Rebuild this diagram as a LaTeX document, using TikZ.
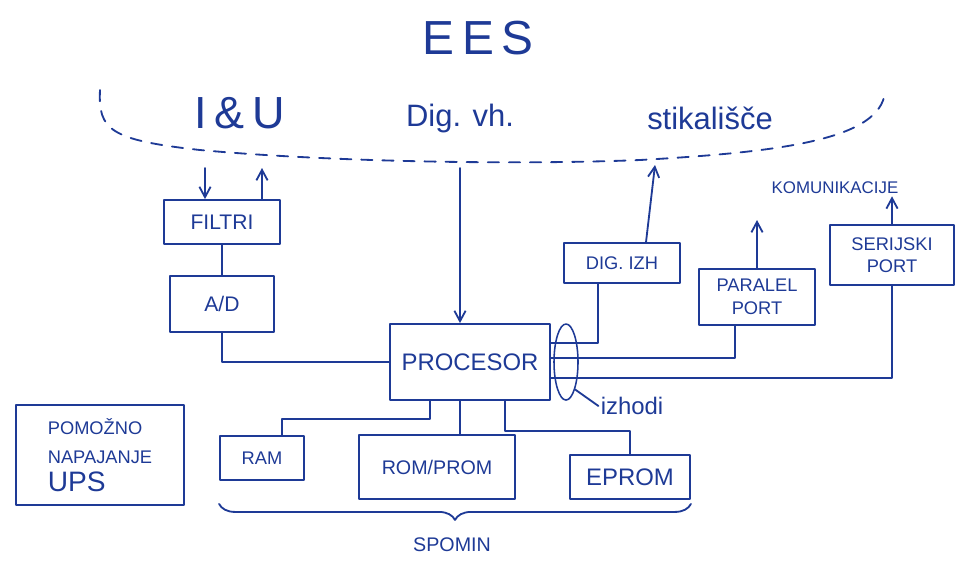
\documentclass[tikz,border=0pt]{standalone}
\usepackage{fontspec}
\setmainfont{Liberation Sans}
\usetikzlibrary{positioning,arrows.meta,calc,shapes.geometric,decorations.pathreplacing}
\definecolor{ink}{RGB}{30,58,150}
\newcommand{\fs}[2]{\fontsize{#1}{#2}\selectfont}
\tikzset{
  fig/.style={x=0.025cm,y=-0.025cm,ink,line width=1.3pt,line cap=round,line join=round},
  box/.style={draw,line width=1.3pt,align=center,inner sep=2pt,font=\fs{15}{18}},
  ln/.style={-{Straight Barb[length=2.6mm,width=2.8mm]},line width=1.3pt},
  lbl/.style={inner sep=1pt},
}

\begin{document}
\begin{tikzpicture}[fig]
\useasboundingbox (0,0) rectangle (970,562);

% field side
\node[lbl,font=\fs{34}{36}] (ees) at (478,38) {E\,E\,S};
\node[lbl,font=\fs{32}{34}] (iu) at (240,113) {I\,\&\,U};
\node[lbl,font=\fs{22}{24}] (digvh) at (460,118) {Dig. vh.};
\node[lbl,font=\fs{22}{24}] (stik) at (710,118) {stikališče};
\draw[dashed,dash pattern=on 8pt off 7pt] (100,90) .. controls (98,130) and (110,140) .. (200,150)
  .. controls (330,162) and (520,165) .. (640,160) .. controls (780,152) and (880,140) .. (885,92);

\coordinate (iuin) at (205,168);
\coordinate (iuout) at (262,168);
\coordinate (dvh) at (460,168);
\coordinate (stikin) at (655,165);
\coordinate (parout) at (757,220);

% blocks
\node[box,minimum width=29mm,minimum height=11mm] (filtri) at (222,222) {FILTRI};
\node[box,minimum width=26mm,minimum height=14mm,below=7.5mm of filtri] (ad) {A/D};
\node[box,minimum width=40mm,minimum height=19mm,font=\fs{17}{20}] (proc) at (470,362) {PROCESOR};
\node[box,minimum width=29mm,minimum height=10mm,font=\fs{13}{16}] (digizh) at (622,263) {DIG. IZH};
\node[box,minimum width=29mm,minimum height=14mm,font=\fs{13}{16}] (paralel) at (757,297) {PARALEL\\PORT};
\node[box,minimum width=31mm,minimum height=15mm,font=\fs{13}{16}] (serijski) at (892,255) {SERIJSKI\\PORT};
\node[lbl,font=\fs{12}{14}] (komun) at (835,188) {KOMUNIKACIJE};

\node[box,minimum width=21mm,minimum height=11mm,font=\fs{13}{16}] (ram) at (262,458) {RAM};
\node[box,minimum width=39mm,minimum height=16mm,font=\fs{14}{17}] (rom) at (437,467) {ROM/PROM};
\node[box,minimum width=30mm,minimum height=11mm,font=\fs{17}{20}] (eprom) at (630,477) {EPROM};
\node[box,minimum width=42mm,minimum height=25mm,align=left,font=\fs{13}{17}] (ups) at (100,455)
  {POMOŽNO\\[4pt]NAPAJANJE\\[3pt]{\fs{20}{22}UPS}};

% input chain
\draw[ln] (iuin) -- (iuin |- filtri.north);
\draw[ln] (iuout |- filtri.north) -- (iuout);
\draw (filtri) -- (ad);
\draw (ad.south) |- (proc.west);
\draw[ln] (dvh) -- (dvh |- proc.north);

% outputs
\draw ([xshift=-6mm]digizh.south) |- ([yshift=4.75mm]proc.east);
\draw ([xshift=-5.5mm]paralel.south) |- ([yshift=1mm]proc.east);
\draw (serijski.south) |- ([yshift=-4mm]proc.east);
\draw[ln] ([xshift=6mm]digizh.north) -- (stikin);
\draw[ln] (paralel.north) -- (parout);
\draw[ln] (serijski.north) -- (serijski.north |- komun.south);

\node[draw,ellipse,line width=1.1pt,minimum width=6mm,minimum height=19mm] (bundle) at (566,362) {};
\node[lbl,font=\fs{17}{20}] (izhodi) at (632,406) {izhodi};
\draw (bundle.south east) -- (izhodi.west);

% memory bus
\draw ([xshift=-10mm]proc.south) -- ++(0,18) -| ([xshift=5mm]ram.north);
\draw ([xshift=-2.5mm]proc.south) -- ([xshift=-2.5mm]proc.south |- rom.north);
\draw ([xshift=8.75mm]proc.south) -- ++(0,30) -| (eprom.north);
\draw[decorate,decoration={brace,mirror,amplitude=4mm}]
  ([yshift=-1mm]ram.south west |- rom.south) -- ([yshift=-1mm]eprom.south east |- rom.south);
\node[lbl,font=\fs{14}{16}] (spomin) at (452,545) {SPOMIN};

\end{tikzpicture}
\end{document}
